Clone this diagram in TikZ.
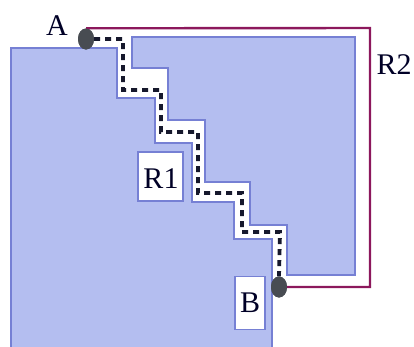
\documentclass[tikz,border=0pt]{standalone}
\usepackage{fontspec}
\setmainfont{Liberation Serif}
\usetikzlibrary{shapes.geometric}
\definecolor{regionblue}{RGB}{180,190,240}
\definecolor{edgeblue}{RGB}{118,128,212}
\definecolor{rtwo}{RGB}{140,24,92}
\definecolor{dotgray}{RGB}{72,76,82}
\definecolor{dashink}{RGB}{22,24,44}
\begin{document}
\begin{tikzpicture}[x=1pt,y=-1pt,
  region/.style={fill=regionblue,draw=edgeblue,line width=1.2pt},
  labelbox/.style={fill=white,draw=edgeblue,line width=1.2pt,inner sep=0pt},
  lbl/.style={font=\fontsize{30}{30}\selectfont,text=black!85!blue,inner sep=0pt},
  pin/.style={ellipse,fill=dotgray,inner sep=0pt,minimum width=16pt,minimum height=21pt},
  rtwoline/.style={draw=rtwo,line width=2.4pt},
  pathline/.style={draw=dashink,line width=3.8pt,dash pattern=on 6pt off 5pt}]
\useasboundingbox (0,0) rectangle (414,346);
\begin{scope}
\clip (0,0) rectangle (414,346);
% lower-left region
\path[region] (11,352) -- (11,48) -- (117,48) -- (117,98) -- (155,98) -- (155,143)
  -- (192,143) -- (192,202) -- (234,202) -- (234,239) -- (272,239) -- (272,352) -- cycle;
% upper-right region
\path[region] (132,37) -- (355,37) -- (355,275) -- (287,275) -- (287,225) -- (250,225)
  -- (250,182) -- (205,182) -- (205,120) -- (168,120) -- (168,68) -- (132,68) -- cycle;
\end{scope}
% label boxes
\node[labelbox,minimum width=45pt,minimum height=49pt] (r1box) at (160.5,176.5) {};
\node[lbl] (r1) at (161,179) {R1};
\node[labelbox,minimum width=30pt,minimum height=53pt] (bbox) at (250,303) {};
\node[lbl] (b) at (250,303) {B};
% terminals
\node[pin] (dotA) at (86,39) {};
\node[pin] (dotB) at (279,287) {};
\node[lbl] (a) at (57,26) {A};
\coordinate (r2c) at (370,28);
\node[lbl] (r2) at (394,65) {R2};
% R2 route
\draw[rtwoline] (dotA.north) -- (r2c) |- (dotB);
% R1 route (dashed staircase)
\draw[pathline] (dotA) -- (123,39) -- (123,90) -- (161,90) -- (161,132) -- (198,132)
  -- (198,193) -- (242,193) -- (242,232) -- (280,232) -- (dotB.north);
\node[pin] at (dotA) {};
\node[pin] at (dotB) {};
\end{tikzpicture}
\end{document}
